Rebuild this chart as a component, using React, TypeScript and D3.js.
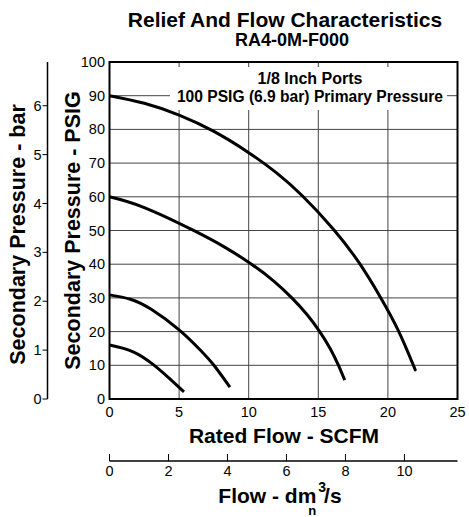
import React from "react";
import * as d3 from "d3";

const W = 469;
const H = 517;

const curve90: [number, number][] = [
  [0, 90], [2.5, 87.75], [5, 84.25], [7.5, 79.4], [10, 73.1], [12, 67.1], [13.85, 60.3],
  [16.1, 50.3], [17.95, 40.3], [19.45, 30.3], [20.75, 20.3], [21.8, 10.3], [21.95, 8.8],
];
const curve60: [number, number][] = [
  [0, 60], [2.5, 56.8], [6, 50.1], [8.3, 45], [10.2, 40], [11.8, 35], [13.1, 30],
  [14.2, 25], [15.1, 20], [15.85, 15], [16.45, 10], [16.9, 5.6],
];
const curve30: [number, number][] = [
  [0, 30.9], [1.5, 29.6], [3, 26.6], [5, 20.5], [6.5, 14.6], [7.5, 10], [8.65, 3.5],
];
const curve15: [number, number][] = [
  [0, 16], [1.7, 14], [3.15, 10.2], [4.3, 6.1], [5.35, 2.1],
];
const series = [curve90, curve60, curve30, curve15];

const scfmTicks = [0, 5, 10, 15, 20, 25];
const psigTicks = [0, 10, 20, 30, 40, 50, 60, 70, 80, 90, 100];
const barTicks = [0, 1, 2, 3, 4, 5, 6];
const dm3Ticks = [0, 2, 4, 6, 8, 10];
const PSI_PER_BAR = 14.5038;
const SCFM_PER_DM3S = 2.1189;

const FONT = "'Liberation Sans', Arial, Helvetica, sans-serif";

export default function App() {
  const left = 109.5, right = 457.5, top = 62, bottom = 399;
  const x = d3.scaleLinear().domain([0, 25]).range([left, right]);
  const y = d3.scaleLinear().domain([0, 100]).range([bottom, top]);
  const yBar = d3.scaleLinear().domain([0, 100 / PSI_PER_BAR]).range([bottom, top]);
  const xDm = d3.scaleLinear().domain([0, 25 / SCFM_PER_DM3S]).range([left, right]);
  const line = d3
    .line<[number, number]>()
    .x((d) => x(d[0]))
    .y((d) => y(d[1]))
    .curve(d3.curveNatural);

  const barAxisX = 47.5;
  const dmAxisY = 461;
  const gridColor = "#444";

  return (
    <svg width={W} height={H} style={{ position: "absolute", left: 0, top: 0, background: "#fff" }} fontFamily={FONT}>
      <rect x={0} y={0} width={W} height={H} fill="#fff" />
      {/* Title */}
      <text x={285} y={27} textAnchor="middle" fontWeight="bold" fontSize={21}>
        Relief And Flow Characteristics
      </text>
      <text x={292} y={46} textAnchor="middle" fontWeight="bold" fontSize={18}>
        RA4-0M-F000
      </text>

      {/* Grid */}
      {psigTicks.filter((t) => t > 0 && t < 100).map((t) => (
        <line key={"h" + t} x1={left} x2={right} y1={y(t)} y2={y(t)} stroke={gridColor} strokeWidth={1} />
      ))}
      {scfmTicks.filter((t) => t > 0 && t < 25).map((t) => (
        <line key={"v" + t} x1={x(t)} x2={x(t)} y1={top} y2={bottom} stroke={gridColor} strokeWidth={1} />
      ))}

      {/* Label box */}
      <rect x={170} y={67} width={277} height={43} fill="#fff" />
      <text x={310} y={84} textAnchor="middle" fontWeight="bold" fontSize={16}>
        1/8 Inch Ports
      </text>
      <text x={310} y={102} textAnchor="middle" fontWeight="bold" fontSize={15.6}>
        100 PSIG (6.9 bar) Primary Pressure
      </text>

      {/* Curves */}
      {series.map((s, i) => (
        <path key={i} d={line(s) || ""} fill="none" stroke="#000" strokeWidth={3} />
      ))}

      {/* Frame */}
      <rect x={left} y={top} width={right - left} height={bottom - top} fill="none" stroke="#000" strokeWidth={2} />

      {/* PSIG tick labels */}
      {psigTicks.map((t) => (
        <text key={"pl" + t} x={105} y={y(t)} dy="0.35em" textAnchor="end" fontSize={14.5}>
          {t}
        </text>
      ))}
      {/* SCFM tick labels */}
      {scfmTicks.map((t) => (
        <text key={"sl" + t} x={x(t)} y={417} textAnchor="middle" fontSize={14.5}>
          {t}
        </text>
      ))}

      {/* Bar axis */}
      <line x1={barAxisX} x2={barAxisX} y1={top} y2={bottom} stroke="#000" strokeWidth={1.5} />
      {barTicks.map((t) => (
        <g key={"b" + t}>
          <line x1={barAxisX - 5} x2={barAxisX} y1={yBar(t)} y2={yBar(t)} stroke="#000" strokeWidth={1} />
          <text x={barAxisX - 6} y={yBar(t)} dy="0.35em" textAnchor="end" fontSize={14.5}>
            {t}
          </text>
        </g>
      ))}

      {/* dm3/s axis */}
      <line x1={left} x2={right} y1={dmAxisY} y2={dmAxisY} stroke="#000" strokeWidth={1.5} />
      {dm3Ticks.map((t) => (
        <g key={"d" + t}>
          <line x1={xDm(t)} x2={xDm(t)} y1={dmAxisY - 7} y2={dmAxisY} stroke="#000" strokeWidth={1} />
          <text x={xDm(t)} y={476} textAnchor="middle" fontSize={14.5}>
            {t}
          </text>
        </g>
      ))}

      {/* Axis titles */}
      <text x={284} y={443} textAnchor="middle" fontWeight="bold" fontSize={21}>
        Rated Flow - SCFM
      </text>
      <text x={280} y={503} textAnchor="middle" fontWeight="bold" fontSize={21}>
        Flow - dm
        <tspan fontSize={13} dx={-8} dy={11.5}>n</tspan>
        <tspan fontSize={14} dx={2} dy={-22.5}>3</tspan>
        <tspan fontSize={21} dx={-2} dy={11}>/s</tspan>
      </text>
      <text transform={`translate(80,${(top + bottom) / 2}) rotate(-90)`} textAnchor="middle" fontWeight="bold" fontSize={21.5}>
        Secondary Pressure - PSIG
      </text>
      <text transform={`translate(25,${(top + bottom) / 2 + 4}) rotate(-90)`} textAnchor="middle" fontWeight="bold" fontSize={21.5}>
        Secondary Pressure - bar
      </text>
    </svg>
  );
}
